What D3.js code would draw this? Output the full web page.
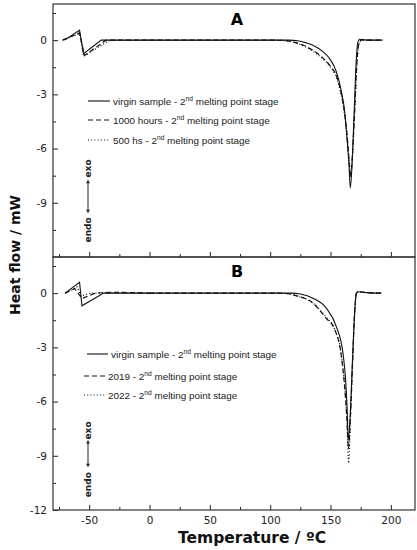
<!DOCTYPE html>
<html>
<head>
<meta charset="utf-8">
<script src="https://cdn.jsdelivr.net/npm/d3@7"></script>
<style>
  body { margin: 0; background: #fff; }
  svg { display: block; }
</style>
</head>
<body>
<svg id="chart" width="417" height="550"></svg>
<script>
// ---- data (temperature in ºC, heat flow in mW) ----
const tempVirginA = [-70.5, -58, -54.7, -40, 0, 50, 100, 115, 124, 130, 135.4, 143.7, 149, 154.8, 159, 161.7, 163.6, 165.3, 166.4, 168.1, 169.7, 171.4, 172.5, 174, 175.4, 185, 193]
const flowVirginA = [0, 0.55, -0.75, 0, 0, 0, 0, 0, -0.05, -0.15, -0.28, -0.64, -1.0, -1.75, -2.85, -3.95, -5.42, -6.9, -8.18, -6.5, -3.77, -1.0, -0.18, 0.05, 0.03, 0, 0]

const temp1000hA = [-72, -58, -54, -36, 0, 50, 100, 112, 120, 128, 135, 143, 150, 155, 159, 162, 164, 165.5, 166.5, 168.3, 170, 171.8, 173, 174.5, 176, 185, 193]
const flow1000hA = [0, 0.4, -0.85, 0, 0, 0, 0, -0.02, -0.12, -0.3, -0.55, -0.95, -1.45, -2.0, -3.0, -4.2, -5.5, -6.8, -7.6, -6.2, -3.9, -1.3, -0.35, -0.05, 0.02, 0, 0]

const temp500hA = [-72, -58, -54.5, -33, 0, 50, 100, 110, 120, 128, 135, 143, 150, 155, 159, 162, 164, 165.5, 166.6, 168.5, 170.2, 172, 173.3, 175, 177, 185, 193]
const flow500hA = [0, 0.35, -0.9, 0, 0, 0, 0, -0.02, -0.13, -0.33, -0.6, -1.0, -1.5, -2.1, -3.1, -4.3, -5.5, -6.7, -7.4, -6.0, -3.7, -1.2, -0.3, -0.03, 0.01, 0, 0]

const tempVirginB = [-70, -58, -56, -38, 0, 50, 100, 118, 125, 135.4, 146.5, 154.8, 160.3, 162.5, 163.9, 164.7, 166.4, 168.1, 170, 171.4, 173, 180, 192]
const flowVirginB = [0, 0.6, -0.7, 0, 0, 0, 0, 0, -0.05, -0.28, -0.83, -1.85, -3.32, -4.8, -6.64, -8.12, -6.64, -3.87, -1.1, 0, 0.08, 0.03, 0]

const temp2019B = [-70, -62, -56, -45, -30, -15, 0, 50, 100, 113, 122, 135.4, 146.5, 153.4, 159, 161.7, 163.6, 164.8, 166.5, 168.2, 170, 171.5, 173, 180, 192]
const flow2019B = [0, 0.25, -0.3, 0, 0.05, 0.03, 0, 0, 0, -0.02, -0.15, -0.55, -1.4, -2.0, -3.5, -5.2, -7.0, -8.6, -6.8, -3.9, -1.0, 0, 0.08, 0.03, 0]

const temp2022B = [-70, -60, -57, -48, 0, 50, 100, 113, 122, 135.4, 146.5, 153.4, 159, 161.7, 163.6, 165, 166.6, 168.3, 170.1, 171.6, 173, 180, 192]
const flow2022B = [0, 0.35, -0.15, 0, 0, 0, 0, -0.02, -0.15, -0.55, -1.35, -2.0, -3.45, -5.1, -7.0, -9.4, -6.8, -3.9, -1.0, 0, 0.07, 0.03, 0]

const legendA = ['virgin sample', '1000 hours', '500 hs']
const legendB = ['virgin sample', '2019', '2022']

const xTicks = [-50, 0, 50, 100, 150, 200]
const xMinorTicks = [-75, -25, 25, 75, 125, 175]
const yTicksA = [0, -3, -6, -9]
const yTicksB = [0, -3, -6, -9, -12]
const yMinorTicks = [1.5, -1.5, -4.5, -7.5, -10.5]

// ---- layout ----
const svg = d3.select('#chart')
const left = 53, right = 415, panelH = 253
const dashes = ['none', '5,3', '1,2.2']

const scaleX = d3.scaleLinear().domain([-80, 220]).range([left, right])

function zip(ts, qs) {
    return ts.map((t, i) => ({ t: t, q: qs[i] }))
}

function drawPanel(top, series, names, yTicks, opts) {
    const scaleY = d3.scaleLinear().domain([-12, 2]).range([top + panelH, top])
    const g = svg.append('g')

    // the cold-crystallisation kink is drawn straight, the melting region smooth
    const straight = d3.line().x(d => scaleX(d.t)).y(d => scaleY(d.q)).curve(d3.curveLinear)
    const smooth = d3.line().x(d => scaleX(d.t)).y(d => scaleY(d.q)).curve(d3.curveMonotoneX)

    g.selectAll('path.curve').data(series)
        .join('path')
        .attr('class', 'curve')
        .attr('d', d => straight(d.filter(p => p.t <= 0)) + smooth(d.filter(p => p.t >= 0)))
        .attr('fill', 'none')
        .attr('stroke', '#111')
        .attr('stroke-width', (d, i) => i == 0 ? 1.1 : 1.2)
        .attr('stroke-dasharray', (d, i) => dashes[i])

    // axes with inward ticks
    const axisY = d3.axisLeft(scaleY).tickValues(yTicks).tickSize(-5).tickPadding(6).tickFormat(d => String(d))
    const axisYMinor = d3.axisLeft(scaleY).tickValues(yMinorTicks).tickSize(-3).tickFormat('')
    g.append('g').attr('transform', `translate(${left},0)`).call(axisY)
    g.append('g').attr('transform', `translate(${left},0)`).call(axisYMinor)

    const axisX = d3.axisBottom(scaleX).tickValues(xTicks).tickSize(-5).tickPadding(7)
        .tickFormat(opts.xLabels ? (d => String(d)) : '')
    const axisXMinor = d3.axisBottom(scaleX).tickValues(xMinorTicks).tickSize(-3).tickFormat('')
    g.append('g').attr('transform', `translate(0,${top + panelH})`).call(axisX)
    g.append('g').attr('transform', `translate(0,${top + panelH})`).call(axisXMinor)

    g.selectAll('.domain').remove()
    g.selectAll('.tick line').attr('stroke', '#222').attr('stroke-width', 1)
    g.selectAll('.tick text')
        .attr('font-family', 'DejaVu Sans, sans-serif')
        .attr('font-size', 10.5)
        .attr('fill', '#222')

    // frame
    g.append('rect')
        .attr('x', left).attr('y', top)
        .attr('width', right - left).attr('height', panelH)
        .attr('fill', 'none').attr('stroke', '#333').attr('stroke-width', 1.2)

    // panel letter
    g.append('text')
        .attr('x', 237).attr('y', top + opts.letterDy)
        .attr('text-anchor', 'middle')
        .attr('font-family', 'DejaVu Sans, sans-serif')
        .attr('font-weight', 'bold')
        .attr('font-size', 16)
        .text(opts.letter)

    // legend
    const leg = g.selectAll('g.legend').data(names)
        .join('g')
        .attr('class', 'legend')
        .attr('transform', (d, i) => `translate(0,${opts.legendY[i]})`)
    leg.append('line')
        .attr('x1', (d, i) => opts.legendX1[i]).attr('x2', (d, i) => opts.legendX2[i])
        .attr('y1', 0).attr('y2', 0)
        .attr('stroke', '#111').attr('stroke-width', 1.1)
        .attr('stroke-dasharray', (d, i) => dashes[i])
    const lt = leg.append('text')
        .attr('x', (d, i) => opts.legendX2[i] + 3)
        .attr('y', 3.5)
        .attr('font-family', 'Liberation Sans, Arial, sans-serif')
        .attr('font-size', 9.9)
        .attr('fill', '#222')
    lt.append('tspan').text(d => d + ' - 2')
    lt.append('tspan').attr('font-size', 6.7).attr('dy', -4).text('nd')
    lt.append('tspan').attr('dy', 4).text(' melting point stage')

    // endo / exo marker
    const ax = 88
    const ann = g.append('g')
        .attr('font-family', 'DejaVu Sans, sans-serif')
        .attr('font-weight', 'bold')
        .attr('font-size', 9)
        .attr('fill', '#222')
    ann.append('text')
        .attr('transform', `translate(${ax + 3},${scaleY(opts.exoAt)}) rotate(-90)`)
        .attr('text-anchor', 'middle')
        .text('exo')
    ann.append('text')
        .attr('transform', `translate(${ax + 3},${scaleY(opts.endoAt)}) rotate(-90)`)
        .attr('text-anchor', 'middle')
        .text('endo')
    ann.append('line')
        .attr('x1', ax).attr('x2', ax)
        .attr('y1', scaleY(opts.arrow[0])).attr('y2', scaleY(opts.arrow[1]))
        .attr('stroke', '#222').attr('stroke-width', 1)
    ann.selectAll('path.head').data(opts.arrow)
        .join('path')
        .attr('class', 'head')
        .attr('d', (d, i) => {
            const y = scaleY(d), s = i == 0 ? -1 : 1
            return `M${ax - 2},${y - s * 3}L${ax},${y}L${ax + 2},${y - s * 3}Z`
        })
        .attr('fill', '#222')
}

drawPanel(4,
    [zip(tempVirginA, flowVirginA), zip(temp1000hA, flow1000hA), zip(temp500hA, flow500hA)],
    legendA, yTicksA,
    { letter: 'A', letterDy: 21, xLabels: false,
      legendY: [101, 120, 140], legendX1: [88, 88, 88], legendX2: [110, 110, 110],
      exoAt: -7.1, endoAt: -10.5, arrow: [-7.75, -9.55] })

drawPanel(257,
    [zip(tempVirginB, flowVirginB), zip(temp2019B, flow2019B), zip(temp2022B, flow2022B)],
    legendB, yTicksB,
    { letter: 'B', letterDy: 20, xLabels: true,
      legendY: [354, 376, 395], legendX1: [87, 84, 84], legendX2: [108, 105, 105],
      exoAt: -7.6, endoAt: -10.6, arrow: [-8.15, -9.6] })

// axis titles
svg.append('text')
    .attr('transform', 'translate(20,255) rotate(-90)')
    .attr('text-anchor', 'middle')
    .attr('font-family', 'DejaVu Sans, sans-serif')
    .attr('font-weight', 'bold')
    .attr('font-size', 14)
    .attr('fill', '#111')
    .text('Heat flow / mW')

svg.append('text')
    .attr('x', 252).attr('y', 543)
    .attr('text-anchor', 'middle')
    .attr('font-family', 'DejaVu Sans, sans-serif')
    .attr('font-weight', 'bold')
    .attr('font-size', 15.5)
    .attr('fill', '#111')
    .text('Temperature / ºC')
</script>
</body>
</html>
